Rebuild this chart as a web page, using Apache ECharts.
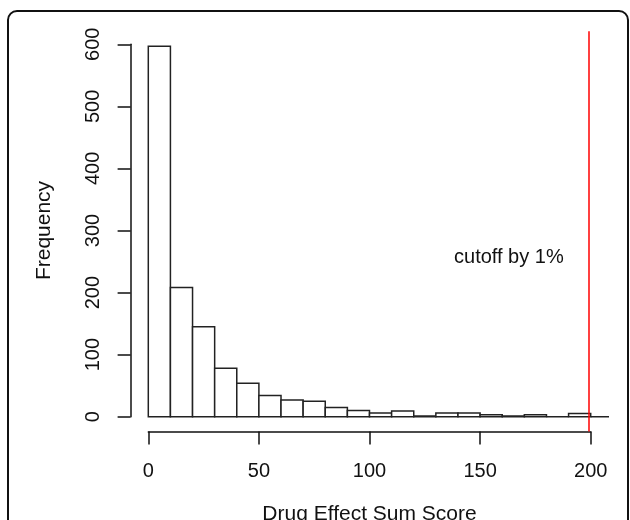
<!DOCTYPE html>
<html>
<head>
<meta charset="utf-8">
<script src="https://cdn.jsdelivr.net/npm/echarts@6/dist/echarts.min.js"></script>
<style>
html, body { margin: 0; padding: 0; background: #fff; }
#main { width: 630px; height: 520px; }
</style>
</head>
<body>
<div id="main"></div>
<script>
// histogram: bins of width 10
var binStarts = [0, 10, 20, 30, 40, 50, 60, 70, 80, 90, 100, 110, 120, 130, 140, 150, 160, 170, 180, 190, 200];
var binWidth = 10;
var counts = [597, 208, 145, 78, 54, 34, 27, 25, 15, 10, 6, 9, 1, 6, 6, 3, 1, 3, 0, 5, 0];
var cutoff = 199;
var cutoffText = 'cutoff by 1%';
var cutoffTextPos = [163, 257];
var xTicks = [0, 50, 100, 150, 200];
var yTicks = [0, 100, 200, 300, 400, 500, 600];

var FONT = 'Liberation Sans';
var INK = '#111';

// pixel box of the axes (first to last tick)
var axL = 148.3, axR = 590.7, axT = 44.3, axB = 416.7;
var xLo = xTicks[0], xHi = xTicks[xTicks.length - 1];
var yLo = yTicks[0], yHi = yTicks[yTicks.length - 1];
// R style plot region: data range widened by 4%
var xPad = (xHi - xLo) * 0.04;
var yTop = Math.max.apply(null, counts);
var yPad = (yTop - 0) * 0.04;
var pxX = (axR - axL) / (xHi - xLo);
var pxY = (axB - axT) / (yHi - yLo);
var regL = axL - xPad * pxX, regR = axR + xPad * pxX;
var regT = axB - (yTop + yPad) * pxY, regB = axB + yPad * pxY;

var myChart = echarts.init(document.getElementById('main'));

var histData = [];
for (var i = 0; i < binStarts.length; i++) {
    histData.push([binStarts[i], binStarts[i] + binWidth, counts[i]]);
}

var option = {
    animation: false,
    backgroundColor: '#fff',
    graphic: [{
        type: 'rect',
        shape: { x: 8, y: 11, width: 620, height: 600, r: 9 },
        style: { fill: 'none', stroke: INK, lineWidth: 2 },
        silent: true
    }],
    grid: [
        { left: regL, top: regT, width: regR - regL, height: regB - regT, containLabel: false, outerBoundsMode: 'none' },
        { left: axL, top: axT, width: axR - axL, height: axB - axT, containLabel: false, outerBoundsMode: 'none' }
    ],
    xAxis: [
        { gridIndex: 0, type: 'value', min: xLo - xPad, max: xHi + xPad, show: false },
        {
            gridIndex: 1, type: 'value', min: xLo, max: xHi, interval: 50,
            position: 'bottom', offset: regB - axB,
            axisLine: { show: true, onZero: false, lineStyle: { color: INK, width: 1.5 } },
            axisTick: { show: true, length: 13, lineStyle: { color: INK, width: 1.5 } },
            axisLabel: { margin: 30, fontFamily: FONT, fontSize: 20, color: INK },
            splitLine: { show: false },
            name: 'Drug Effect Sum Score', nameLocation: 'middle', nameGap: 72,
            nameTextStyle: { fontFamily: FONT, fontSize: 21, color: INK }
        }
    ],
    yAxis: [
        { gridIndex: 0, type: 'value', min: 0 - yPad, max: yTop + yPad, show: false },
        {
            gridIndex: 1, type: 'value', min: yLo, max: yHi, interval: 100,
            position: 'left', offset: axL - regL,
            axisLine: { show: true, onZero: false, lineStyle: { color: INK, width: 1.5 } },
            axisTick: { show: true, length: 13, lineStyle: { color: INK, width: 1.5 } },
            axisLabel: { margin: 27, rotate: 90, fontFamily: FONT, fontSize: 20, color: INK },
            splitLine: { show: false },
            name: 'Frequency', nameLocation: 'middle', nameGap: 76,
            nameTextStyle: { fontFamily: FONT, fontSize: 21, color: INK }
        }
    ],
    series: [{
        type: 'custom',
        xAxisIndex: 0,
        yAxisIndex: 0,
        clip: true,
        data: histData,
        renderItem: function (params, api) {
            var p0 = api.coord([api.value(0), api.value(2)]);
            var p1 = api.coord([api.value(1), 0]);
            return {
                type: 'rect',
                shape: { x: p0[0], y: p0[1], width: p1[0] - p0[0], height: p1[1] - p0[1] },
                style: { fill: '#fff', stroke: '#222', lineWidth: 1.5 }
            };
        },
        markLine: {
            silent: true,
            symbol: 'none',
            label: { show: false },
            lineStyle: { color: '#ff0000', width: 1.5, type: 'solid' },
            data: [{ xAxis: cutoff }]
        },
        markPoint: {
            silent: true,
            symbol: 'circle',
            symbolSize: 0,
            label: {
                show: true, position: 'inside', formatter: cutoffText,
                fontFamily: FONT, fontSize: 20, color: INK
            },
            data: [{ coord: cutoffTextPos }]
        }
    }]
};
myChart.setOption(option);
</script>
</body>
</html>
